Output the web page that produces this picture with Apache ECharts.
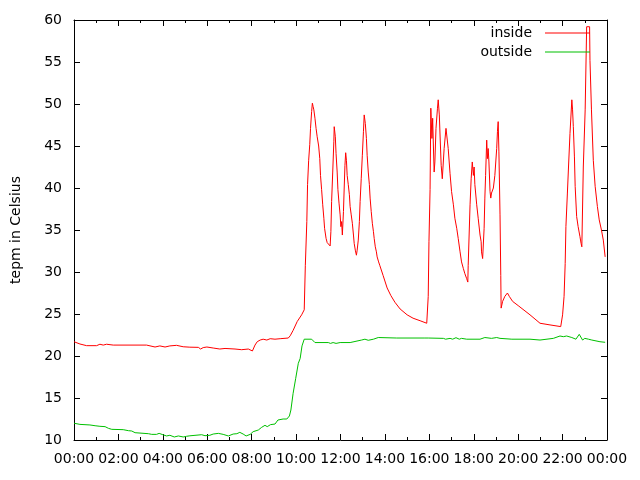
<!DOCTYPE html>
<html>
<head>
<meta charset="utf-8">
<script src="https://cdn.jsdelivr.net/npm/echarts@6/dist/echarts.min.js"></script>
<style>html,body{margin:0;padding:0;background:#fff}#c{width:640px;height:480px}</style>
</head>
<body>
<div id="c"></div>
<script>
// minutes since midnight
var insideTime = [0,16,34,61,70,79,88,106,196,201,219,232,246,259,277,295,313,336,342,349,359,376,394,408,435,453,471,482,489,495,503,511,521,530,543,557,579,584,592,603,615,622,625,629,631,634,637,639,642,644,646,648,651,654,657,661,664,666,669,672,675,677,681,684,688,692,694,696,699,702,703,706,708,711,713,716,719,721,723,725,728,730,732,734,736,738,741,744,746,749,752,755,757,760,763,765,768,771,773,776,779,782,784,787,790,792,795,798,800,803,806,809,811,814,817,819,823,826,835,846,856,867,881,900,916,935,953,957,959,962,964,967,969,971,973,975,978,982,984,987,990,992,995,1000,1005,1011,1016,1020,1025,1029,1034,1038,1043,1047,1052,1056,1061,1064,1065,1070,1073,1076,1079,1081,1083,1088,1092,1097,1100,1101,1104,1108,1110,1112,1115,1117,1119,1121,1124,1126,1128,1133,1137,1142,1144,1146,1148,1151,1153,1154,1158,1164,1171,1176,1185,1200,1232,1259,1286,1315,1320,1324,1327,1329,1333,1336,1340,1345,1347,1349,1352,1354,1358,1362,1367,1370,1372,1376,1381,1385,1390,1393,1394,1398,1403,1408,1414,1419,1425,1430,1435];
var insideTemp = [21.7,21.43,21.23,21.23,21.4,21.3,21.4,21.3,21.3,21.2,21.07,21.2,21.07,21.2,21.27,21.1,21.05,21.03,20.83,21.0,21.07,20.95,20.83,20.9,20.83,20.75,20.83,20.6,21.3,21.7,21.9,22.0,21.9,22.06,22.0,22.06,22.14,22.4,23.05,24.1,24.9,25.5,30.8,36.0,40.4,43.3,45.2,47.1,49.1,50.1,49.7,49.3,48.3,47.1,46.1,45.0,43.5,41.5,39.8,38.0,36.4,35.2,34.0,33.5,33.3,33.1,34.8,38.4,41.9,45.5,47.3,46.1,44.1,41.9,39.8,38.2,36.8,35.4,36.0,34.4,37.2,40.0,42.7,44.2,43.3,41.5,40.4,39.2,37.8,36.8,35.8,34.4,33.4,32.6,32.0,32.6,33.8,36.0,38.4,41.1,43.9,46.7,48.7,47.7,45.9,43.9,41.9,40.4,38.8,37.2,35.8,34.8,34.0,33.0,32.4,31.8,31.2,30.8,29.6,28.1,27.2,26.4,25.6,24.9,24.5,24.2,23.9,27.1,33.6,39.8,49.5,45.9,48.3,45.0,41.9,43.1,47.1,49.5,50.5,48.7,45.0,42.7,41.1,44.7,47.1,44.7,41.7,39.6,38.0,36.4,35.2,34.0,32.4,31.2,30.4,29.8,29.2,28.8,30.8,38.0,41.1,43.1,41.5,42.5,40.4,38.0,36.4,34.4,33.6,32.4,31.6,35.2,38.8,41.5,45.7,43.5,44.7,43.1,39.6,38.8,39.4,40.0,41.5,44.7,46.7,47.9,44.3,36.8,29.6,25.7,26.5,27.1,27.5,27.1,26.5,26.0,24.9,23.9,23.7,23.5,24.9,27.1,31.0,35.4,39.4,42.5,46.5,50.5,49.3,47.3,43.7,40.2,36.6,35.4,34.2,33.4,33.0,42.5,49.3,59.2,59.4,59.2,55.2,49.3,43.3,40.2,37.8,36.2,35.0,33.8,31.8];
var outsideTime = [0,16,43,57,70,84,93,102,133,147,156,165,169,201,210,223,230,240,250,259,271,282,295,304,313,345,354,367,376,390,403,417,430,440,448,457,465,476,484,498,507,516,522,531,543,551,565,575,582,586,592,599,606,611,616,622,642,651,687,693,700,708,719,746,750,777,786,795,809,822,872,948,953,957,998,1004,1016,1023,1032,1041,1047,1061,1097,1110,1128,1142,1151,1183,1232,1259,1264,1295,1313,1322,1331,1345,1356,1365,1374,1380,1390,1399,1421,1435];
var outsideTemp = [12.0,11.86,11.79,11.7,11.63,11.59,11.39,11.27,11.23,11.11,11.07,10.87,10.75,10.75,10.67,10.67,10.79,10.63,10.48,10.56,10.36,10.48,10.36,10.44,10.5,10.63,10.51,10.56,10.71,10.79,10.67,10.48,10.71,10.75,10.91,10.71,10.48,10.67,10.99,11.19,11.51,11.75,11.59,11.83,11.9,12.38,12.5,12.5,12.86,13.57,15.56,17.34,19.13,19.7,21.2,22.0,22.0,21.6,21.6,21.5,21.6,21.5,21.6,21.6,21.79,21.9,22.0,21.87,22.0,22.2,22.14,22.14,22.3,22.14,22.1,22.0,22.1,22.0,22.18,22.0,22.1,22.0,22.0,22.2,22.1,22.2,22.1,22.0,22.0,21.9,22.1,22.1,22.38,22.3,22.38,22.2,22.0,22.58,21.9,22.1,22.0,21.9,21.7,21.63];
var seriesNames = ['inside', 'outside'];
var yLabel = 'tepm in Celsius';

function pairs(t, v) { return t.map(function (x, i) { return [x, v[i]]; }); }
function hhmm(m) {
  var h = Math.floor(m / 60) % 24, mm = m % 60;
  return (h < 10 ? '0' : '') + h + ':' + (mm < 10 ? '0' : '') + mm;
}
var font = 'DejaVu Sans, sans-serif';
var fs = 14;
var axisCommon = {
  axisLine: { show: true, onZero: false, lineStyle: { color: '#000', width: 1 } },
  axisTick: { show: true, inside: true, length: 6, lineStyle: { color: '#000' } },
  splitLine: { show: false }
};
function xAx(pos, labels) {
  return Object.assign({}, axisCommon, {
    type: 'value', position: pos, min: 0, max: 1440, interval: 120,
    minorTick: { show: true, splitNumber: 2, length: 3, lineStyle: { color: '#000' } },
    axisLabel: { show: labels, margin: 12, color: '#000', fontSize: fs, fontFamily: font, formatter: hhmm }
  });
}
function yAx(pos, labels) {
  return Object.assign({}, axisCommon, {
    type: 'value', position: pos, min: 10, max: 60, interval: 5,
    name: labels ? yLabel : '', nameLocation: 'middle', nameGap: 51, nameRotate: 90,
    nameTextStyle: { color: '#000', fontSize: fs, fontFamily: font },
    axisLabel: { show: labels, margin: 12, color: '#000', fontSize: fs, fontFamily: font }
  });
}
var chart = echarts.init(document.getElementById('c'), null, { renderer: 'canvas' });
chart.setOption({
  animation: false,
  backgroundColor: '#fff',
  grid: { left: 74, right: 33, top: 20, bottom: 40, containLabel: false },
  legend: {
    orient: 'vertical', right: 50, top: 26, padding: 0, align: 'right',
    icon: 'rect', itemWidth: 45, itemHeight: 1, itemGap: 5,
    textStyle: { color: '#000', fontSize: fs, fontFamily: font, padding: [0, 8, 0, 0] },
    data: seriesNames
  },
  xAxis: [xAx('bottom', true), xAx('top', false)],
  yAxis: [yAx('left', true), yAx('right', false)],
  series: [
    { name: seriesNames[0], type: 'line', symbol: 'none', showSymbol: false, data: pairs(insideTime, insideTemp),
      lineStyle: { color: '#ff0000', width: 1 }, itemStyle: { color: '#ff0000' } },
    { name: seriesNames[1], type: 'line', symbol: 'none', showSymbol: false, data: pairs(outsideTime, outsideTemp),
      lineStyle: { color: '#00c000', width: 1 }, itemStyle: { color: '#00c000' } }
  ]
});
</script>
</body>
</html>
